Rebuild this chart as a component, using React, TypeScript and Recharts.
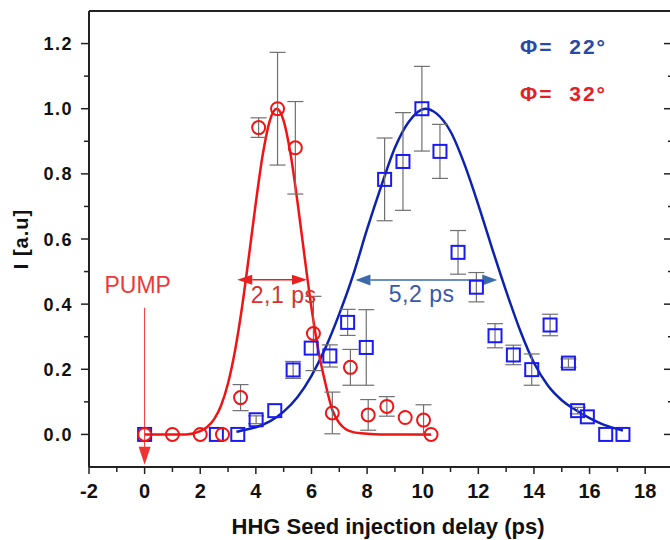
import {
  ComposedChart,
  XAxis,
  YAxis,
  Line,
  Scatter,
  ErrorBar,
  ReferenceLine,
  ReferenceDot,
  Label,
} from "recharts";

const FONT = '"Liberation Sans", Arial, sans-serif';

// measured points, phi = 32 deg (red circles)
const redX = [0, 1, 2, 2.8, 3.45, 4.1, 4.78, 5.42, 6.07, 6.75, 7.4, 8.04, 8.71, 9.37, 10.03, 10.3];
const redY = [0, 0, 0, 0, 0.113, 0.942, 1.0, 0.88, 0.31, 0.066, 0.206, 0.06, 0.086, 0.052, 0.044, 0];
const redErr = [0, 0, 0, 0, 0.04, 0.03, 0.173, 0.142, 0.114, 0.064, 0.055, 0.047, 0.03, 0, 0.047, 0];

// measured points, phi = 22 deg (blue squares)
const blueX = [0, 2.58, 3.35, 4.01, 4.68, 5.34, 5.99, 6.66, 7.3, 7.97, 8.63, 9.29, 9.97, 10.62, 11.27, 11.93, 12.6, 13.26, 13.92, 14.58, 15.24, 15.57, 15.92, 16.58, 17.2];
const blueY = [0, 0, 0, 0.045, 0.073, 0.198, 0.265, 0.241, 0.344, 0.267, 0.783, 0.838, 1.0, 0.869, 0.559, 0.452, 0.303, 0.244, 0.199, 0.336, 0.219, 0.073, 0.054, 0, 0];
const blueErr = [0, 0, 0, 0.012, 0, 0.026, 0, 0.034, 0.04, 0.116, 0.127, 0.15, 0.13, 0.083, 0.067, 0.045, 0.037, 0.03, 0.048, 0.033, 0.013, 0.01, 0, 0, 0];

// fitted curves
const redFitX = [0, 0.5, 1, 1.5, 2, 2.25, 2.5, 2.75, 3, 3.25, 3.5, 3.75, 4, 4.25, 4.5, 4.75, 5, 5.25, 5.5, 5.75, 6, 6.25, 6.5, 6.75, 7, 7.25, 7.5, 8, 8.5, 9, 9.5, 10, 10.3];
const redFitY = [0, 0, 0, 0, 0.01, 0.023, 0.047, 0.089, 0.157, 0.257, 0.389, 0.547, 0.712, 0.86, 0.963, 1.0, 0.963, 0.86, 0.712, 0.547, 0.389, 0.257, 0.157, 0.075, 0.035, 0.015, 0.007, 0.002, 0, 0, 0, 0, 0];

const blueFitX = [3.3, 3.5, 4, 4.5, 5, 5.5, 6, 6.5, 7, 7.5, 8, 8.5, 9, 9.5, 10.1, 10.5, 11, 11.5, 12, 12.5, 13, 13.5, 14, 14.5, 15, 15.5, 16, 16.5, 17.2];
const blueFitY = [0.008, 0.012, 0.022, 0.04, 0.07, 0.115, 0.18, 0.265, 0.37, 0.49, 0.63, 0.76, 0.88, 0.96, 1.0, 0.985, 0.93, 0.83, 0.705, 0.57, 0.44, 0.32, 0.22, 0.15, 0.105, 0.075, 0.05, 0.03, 0.012];

const xTicks = [-2, -1, 0, 1, 2, 3, 4, 5, 6, 7, 8, 9, 10, 11, 12, 13, 14, 15, 16, 17, 18];
const yTicks = [0, 0.1, 0.2, 0.3, 0.4, 0.5, 0.6, 0.7, 0.8, 0.9, 1.0, 1.1, 1.2];

const redPoints = redX.map((x, i) => ({ x, y: redY[i], err: redErr[i] }));
const bluePoints = blueX.map((x, i) => ({ x, y: blueY[i], err: blueErr[i] }));
const redFit = redFitX.map((x, i) => ({ x, y: redFitY[i] }));
const blueFit = blueFitX.map((x, i) => ({ x, y: blueFitY[i] }));

const RED = "#f01414";
const BLUE = "#1a1af2";
const AXIS = "#222";

const axisStyle = { stroke: AXIS, strokeWidth: 2 };

const isMajorX = (v: number) => v % 2 === 0;
const isMajorY = (v: number) => Math.round(v * 10) % 2 === 0;

const BottomTick = (p: any) => {
  const v = p.payload.value;
  const major = isMajorX(v);
  return (
    <g>
      <line x1={p.x} x2={p.x} y1={p.y} y2={p.y + (major ? 7 : 5)} stroke={AXIS} strokeWidth={1.5} />
      {major && (
        <text x={p.x} y={p.y + 31} textAnchor="middle" fontFamily={FONT} fontWeight="bold" fontSize={20} fill="#111">
          {v}
        </text>
      )}
    </g>
  );
};

const TopTick = (p: any) => {
  const major = isMajorX(p.payload.value);
  return <line x1={p.x} x2={p.x} y1={p.y} y2={p.y + (major ? 9 : 5)} stroke={AXIS} strokeWidth={1.5} />;
};

const LeftTick = (p: any) => {
  const v = p.payload.value;
  const major = isMajorY(v);
  return (
    <g>
      <line x1={p.x - (major ? 8 : 5)} x2={p.x} y1={p.y} y2={p.y} stroke={AXIS} strokeWidth={1.5} />
      {major && (
        <text x={p.x - 16} y={p.y + 6.5} textAnchor="end" fontFamily={FONT} fontWeight="bold" fontSize={18} letterSpacing={1.5} fill="#111">
          {v.toFixed(1)}
        </text>
      )}
    </g>
  );
};

const RightTick = (p: any) => {
  const major = isMajorY(p.payload.value);
  return <line x1={p.x - (major ? 9 : 5)} x2={p.x} y1={p.y} y2={p.y} stroke={AXIS} strokeWidth={1.5} />;
};

const Circle = (p: any) => <circle cx={p.cx} cy={p.cy} r={6.5} fill="none" stroke={RED} strokeWidth={2} />;
const Square = (p: any) => (
  <rect x={p.cx - 6.5} y={p.cy - 6.5} width={13} height={13} fill="none" stroke={BLUE} strokeWidth={2} />
);

const textShape =
  (txt: string, color: string, size: number, weight: string, anchor: string, spacing = 0) =>
  (p: any) =>
    (
      <text
        x={p.cx}
        y={p.cy}
        fill={color}
        fontSize={size}
        fontWeight={weight}
        fontFamily={FONT}
        textAnchor={anchor as any}
        letterSpacing={spacing}
        style={{ whiteSpace: "pre" }}
      >
        {txt}
      </text>
    );

const hArrow = (color: string, head: number, half: number) => (p: any) => {
  const { x1, y1, x2 } = p;
  return (
    <g>
      <line x1={x1 + head} y1={y1} x2={x2 - head} y2={y1} stroke={color} strokeWidth={1.5} />
      <polygon points={`${x1},${y1} ${x1 + head},${y1 - half} ${x1 + head},${y1 + half}`} fill={color} />
      <polygon points={`${x2},${y1} ${x2 - head},${y1 - half} ${x2 - head},${y1 + half}`} fill={color} />
    </g>
  );
};

const downArrow = (color: string) => (p: any) => {
  const { x1, y1, y2 } = p;
  return (
    <g>
      <line x1={x1} y1={y1} x2={x1} y2={y2 - 16} stroke={color} strokeWidth={1} />
      <polygon points={`${x1},${y2} ${x1 - 6},${y2 - 18} ${x1 + 6},${y2 - 18}`} fill={color} />
    </g>
  );
};

function App() {
  return (
    <div style={{ position: "absolute", left: 0, top: 0, width: 670, height: 540, overflow: "hidden", background: "#fff" }}>
      <ComposedChart width={690} height={540} margin={{ top: 0, right: 0, bottom: 0, left: 0 }}>
        <XAxis
          xAxisId="top"
          orientation="top"
          type="number"
          domain={[-2, 19]}
          allowDataOverflow
          ticks={xTicks}
          interval={0}
          height={11}
          tickSize={0}
          tickMargin={0}
          tickLine={false}
          tick={TopTick}
          axisLine={axisStyle}
        />
        <XAxis
          type="number"
          dataKey="x"
          domain={[-2, 19]}
          allowDataOverflow
          ticks={xTicks}
          interval={0}
          height={73}
          tickSize={0}
          tickMargin={0}
          tickLine={false}
          tick={BottomTick}
          axisLine={axisStyle}
        >
          <Label
            content={(p: any) => (
              <text
                x={p.viewBox.x + p.viewBox.width / 2 + 7}
                y={p.viewBox.y + 67}
                textAnchor="middle"
                fontFamily={FONT}
                fontWeight="bold"
                fontSize={22}
                fill="#111"
              >
                HHG Seed injection delay (ps)
              </text>
            )}
          />
        </XAxis>
        <YAxis
          type="number"
          domain={[-0.1, 1.3]}
          allowDataOverflow
          ticks={yTicks}
          interval={0}
          width={89}
          tickSize={0}
          tickMargin={0}
          tickLine={false}
          tick={LeftTick}
          axisLine={axisStyle}
        >
          <Label
            content={(p: any) => {
              const cx = p.viewBox.x + 28;
              const cy = p.viewBox.y + p.viewBox.height / 2;
              return (
                <text
                  x={cx}
                  y={cy}
                  transform={`rotate(-90, ${cx}, ${cy})`}
                  textAnchor="middle"
                  fontFamily={FONT}
                  fontWeight="bold"
                  fontSize={20}
                  letterSpacing={1}
                  fill="#111"
                >
                  I [a.u]
                </text>
              );
            }}
          />
        </YAxis>
        <YAxis
          yAxisId="right"
          orientation="right"
          type="number"
          domain={[-0.1, 1.3]}
          allowDataOverflow
          ticks={yTicks}
          interval={0}
          width={17}
          tickSize={0}
          tickMargin={0}
          tickLine={false}
          tick={RightTick}
          axisLine={axisStyle}
        />

        <Line data={blueFit} dataKey="y" type="monotone" stroke="#0c22b0" strokeWidth={2.5} dot={false} isAnimationActive={false} />
        <Line data={redFit} dataKey="y" type="monotone" stroke={RED} strokeWidth={2.5} dot={false} isAnimationActive={false} />

        <Scatter data={bluePoints} dataKey="y" shape={Square} isAnimationActive={false}>
          <ErrorBar dataKey="err" direction="y" width={8} stroke="#707070" strokeWidth={1.2} isAnimationActive={false} />
        </Scatter>
        <Scatter data={redPoints} dataKey="y" shape={Circle} isAnimationActive={false}>
          <ErrorBar dataKey="err" direction="y" width={8} stroke="#707070" strokeWidth={1.2} isAnimationActive={false} />
        </Scatter>

        <ReferenceLine segment={[{ x: 3.33, y: 0.475 }, { x: 5.84, y: 0.475 }]} shape={hArrow("#e82020", 15, 5)} />
        <ReferenceLine segment={[{ x: 7.58, y: 0.474 }, { x: 12.68, y: 0.474 }]} shape={hArrow("#3a6aaa", 15, 5.5)} />
        <ReferenceLine segment={[{ x: 0, y: 0.389 }, { x: 0, y: -0.093 }]} shape={downArrow("#ee3333")} />

        <ReferenceDot x={5.0} y={0.403} shape={textShape("2,1 ps", "#d83030", 23, "normal", "middle", 0.5)} />
        <ReferenceDot x={9.96} y={0.406} shape={textShape("5,2 ps", "#3a58a8", 23, "normal", "middle", 0.5)} />
        <ReferenceDot x={-0.25} y={0.435} shape={textShape("PUMP", "#e83a3a", 23, "normal", "middle")} />
        <ReferenceDot x={13.5} y={1.167} shape={textShape("Φ=  22°", "#2a48a8", 21, "bold", "start", 2)} />
        <ReferenceDot x={13.5} y={1.025} shape={textShape("Φ=  32°", "#e02228", 21, "bold", "start", 2)} />
      </ComposedChart>
    </div>
  );
}

export default App;
